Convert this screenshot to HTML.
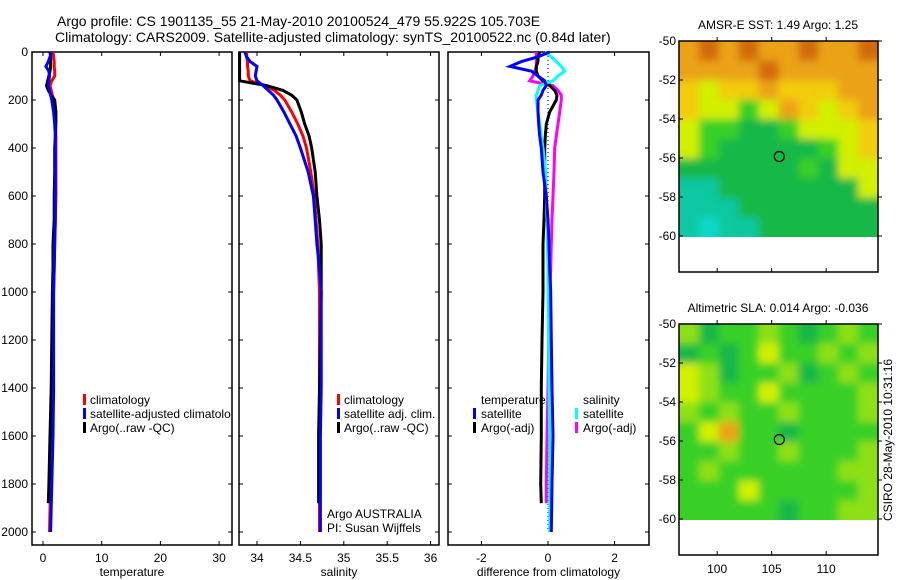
<!DOCTYPE html>
<html><head><meta charset="utf-8"><style>
body{margin:0;background:#fff;}
svg{display:block;font-family:"Liberation Sans",sans-serif;}
</style></head><body>
<svg id="c" width="900" height="580" xmlns="http://www.w3.org/2000/svg">
<defs>
<filter id="bl" filterUnits="userSpaceOnUse" x="600" y="0" width="300" height="580"><feGaussianBlur stdDeviation="4"/></filter>
<clipPath id="cm1"><rect x="679" y="41" width="199" height="196"/></clipPath>
<clipPath id="cm2"><rect x="679" y="324" width="199" height="196"/></clipPath>
</defs>
<text x="57" y="26" font-size="14">Argo profile: CS 1901135_55 21-May-2010 20100524_479 55.922S 105.703E</text>
<text x="55" y="42" font-size="14">Climatology: CARS2009. Satellite-adjusted climatology: synTS_20100522.nc (0.84d later)</text>
<g id="g"></g>
</svg>
<script>
const depths = [0,20,40,60,80,100,120,140,160,180,200,250,300,350,400,500,600,700,800,900,1000,1200,1400,1600,1800,2000];
const argoDepths = [0,20,40,60,80,100,120,140,160,180,200,250,300,350,400,500,600,700,800,900,1000,1200,1400,1600,1800,1880];
const tempClim = [1.7,1.8,1.9,1.9,2.0,2.0,1.5,1.2,1.4,1.6,1.8,2.0,2.1,2.2,2.2,2.2,2.2,2.1,2.0,1.9,1.8,1.7,1.6,1.5,1.3,1.1];
const tempSat = [1.5,1.2,0.9,0.5,1.0,1.1,1.0,0.9,1.1,1.3,1.5,1.8,2.0,2.1,2.1,2.1,2.1,2.1,2.0,1.9,1.8,1.8,1.8,1.7,1.5,1.3];
const tempArgo = [1.2,1.3,1.3,1.3,1.2,1.0,0.8,0.6,0.9,1.4,2.0,2.2,2.2,2.1,2.0,2.0,1.9,1.9,1.7,1.7,1.6,1.5,1.4,1.2,1.0,0.9];
const salClim = [33.88,33.88,33.89,33.89,33.9,33.9,33.92,34.1,34.2,34.27,34.32,34.4,34.47,34.53,34.57,34.62,34.66,34.68,34.70,34.71,34.72,34.72,34.72,34.72,34.72,34.72];
const salSat = [33.86,33.88,33.92,34.0,33.99,33.98,34.0,34.07,34.13,34.19,34.23,34.31,34.38,34.45,34.5,34.59,34.65,34.67,34.69,34.72,34.74,34.74,34.74,34.73,34.73,34.73];
const salArgo = [33.8,33.8,33.8,33.8,33.8,33.8,33.8,34.11,34.3,34.4,34.46,34.51,34.55,34.6,34.63,34.67,34.69,34.72,34.74,34.74,34.74,34.73,34.72,34.71,34.71,34.71];
const dTempSat = [0.05,-0.3,-0.8,-1.14,-0.5,-0.3,-0.1,-0.05,-0.15,-0.2,-0.3,-0.3,-0.28,-0.25,-0.2,-0.15,-0.05,0,0.03,0.05,0.08,0.1,0.12,0.15,0.12,0.1];
const dTempArgo = [-0.25,-0.3,-0.3,-0.35,-0.35,-0.3,-0.15,0.05,0.2,0.27,0.25,0.05,-0.05,-0.08,-0.1,-0.1,-0.1,-0.12,-0.15,-0.15,-0.15,-0.18,-0.2,-0.2,-0.22,-0.2];
const dSalSat = [-0.1,0.1,0.25,0.4,0.5,0.3,0.15,-0.25,-0.3,-0.35,-0.35,-0.3,-0.25,-0.2,-0.15,-0.07,-0.05,-0.03,-0.02,0,0,0.02,0.03,0.05,0.05,0.05];
const dSalArgo = [-0.35,-0.35,-0.35,-0.35,-0.4,-0.45,-0.55,0.15,0.3,0.4,0.4,0.35,0.3,0.25,0.2,0.18,0.15,0.12,0.1,0.08,0.05,0.02,0,-0.03,-0.05,-0.05];
const depthTicks = [0,200,400,600,800,1000,1200,1400,1600,1800,2000];
const tempTicks = [0,10,20,30];
const salTicks = [34,34.5,35,35.5,36];
const diffTicks = [-2,0,2];
const latTicks = [-50,-52,-54,-56,-58,-60];
const lonTicks = [100,105,110];
const sstGrid = ["OROROOROOR","OOOOROOOOO","YyYYOYYYOO","YyyGyOYyYO","yGGggGyyyY","yGgggggGyY","ggggggGgyy","TTgggggggy","TTTggggggg","TCTTgggggg"];
const slaGrid = ["lgGGlGgGlG","gGgGyGGlGl","ylgGGlgGlG","ylGGyGGGGl","lGlGGlGGGl","GyOGGgGGGG","GGlGGlGGGl","GlGGGGGGll","GGGyGGGGGl","GGGGGgGGll"];
const argoLon = 105.703, argoLat = -55.922;

const NS="http://www.w3.org/2000/svg";
const G=document.getElementById('g');
function el(t,a,p){const e=document.createElementNS(NS,t);for(const k in a)e.setAttribute(k,a[k]);(p||G).appendChild(e);return e;}
const Y=d=>52+d*0.24;
const TOP=52,BOT=545;
function panel(name,x0,x1,sx,xt,label){
  const g=el('g',{});
  
  
  const r=el('rect',{x:x0,y:TOP,width:x1-x0,height:BOT-TOP,fill:'none',stroke:'#000','stroke-width':1.5},g);
  
  
  depthTicks.forEach(d=>{el('line',{x1:x0,x2:x0+4,y1:Y(d),y2:Y(d),stroke:'#000'},g);el('line',{x1:x1,x2:x1-4,y1:Y(d),y2:Y(d),stroke:'#000'},g);});
  xt.forEach(v=>{const x=sx(v);el('line',{x1:x,x2:x,y1:TOP,y2:TOP+4,stroke:'#000'},g);el('line',{x1:x,x2:x,y1:BOT,y2:BOT-4,stroke:'#000'},g);
    const t=el('text',{x:x,y:BOT+17,'font-size':12,'text-anchor':'middle'},g);t.textContent=v;
    
    });
  const t=el('text',{x:(x0+x1)/2,y:BOT+31,'font-size':12,'text-anchor':'middle'},g);t.textContent=label;
  
  
  return g;
}
function line(g,name,sx,vals,ds,col){
  let pts=[];vals.forEach((v,i)=>{pts.push(sx(v).toFixed(1)+','+Y(ds[i]).toFixed(1));});
  const p=el('polyline',{points:pts.join(' '),fill:'none',stroke:col,'stroke-width':3,'stroke-linejoin':'miter'},g);
  
  
}
function txt(g,name,x,y,s,extra){const t=el('text',Object.assign({x:x,y:y,'font-size':12},extra||{}),g);t.textContent=s;
  
  return t;}
function mark(g,name,x,y,col){const r=el('rect',{x:x,y:y-10,width:3,height:11,fill:col},g);
  
  }

depthTicks.forEach(d=>{txt(G,'depth-tick-label',28,Y(d)+4,d,{'text-anchor':'end'});});

const sxT=v=>43+v*5.87;
const g1=panel('temperature',32,232,sxT,tempTicks,'temperature');
line(g1,'temp-climatology-line',sxT,tempClim,depths,'#f00');
line(g1,'temp-argo-line',sxT,tempArgo,argoDepths,'#000');
line(g1,'temp-satellite-line',sxT,tempSat,depths,'#00f');
mark(g1,'legend-climatology-marker',83,404,'#f00');txt(g1,'legend-climatology',90,404,'climatology');
mark(g1,'legend-satellite-marker',83,418,'#00f');txt(g1,'legend-satellite-adjusted',90,418,'satellite-adjusted climatolo');
mark(g1,'legend-argo-marker',83,432,'#000');txt(g1,'legend-argo',90,432,'Argo(..raw -QC)');

const sxS=v=>257+(v-34)*86.8;
const g2=panel('salinity',239,439,sxS,salTicks,'salinity');
line(g2,'sal-climatology-line',sxS,salClim,depths,'#f00');
line(g2,'sal-argo-line',sxS,salArgo,argoDepths,'#000');
line(g2,'sal-satellite-line',sxS,salSat,depths,'#00f');
mark(g2,'legend-climatology-marker',337,404,'#f00');txt(g2,'legend-climatology',344,404,'climatology');
mark(g2,'legend-satellite-marker',337,418,'#00f');txt(g2,'legend-satellite',344,418,'satellite adj. clim.');
mark(g2,'legend-argo-marker',337,432,'#000');txt(g2,'legend-argo',344,432,'Argo(..raw -QC)');
txt(g2,'argo-australia-label',327,518,'Argo AUSTRALIA');
txt(g2,'pi-label',327,532,'PI: Susan Wijffels');

const sxD=v=>548+v*33.3;
const g3=panel('difference',448,649,sxD,diffTicks,'difference from climatology');
el('line',{x1:sxD(0),x2:sxD(0),y1:TOP,y2:Y(2000),stroke:'#000','stroke-dasharray':'1,3'},g3);
line(g3,'diff-sal-argo-line',sxD,dSalArgo,argoDepths,'#f0f');
line(g3,'diff-temp-argo-line',sxD,dTempArgo,argoDepths,'#000');
line(g3,'diff-sal-satellite-line',sxD,dSalSat,depths,'#0ff');
line(g3,'diff-temp-satellite-line',sxD,dTempSat,depths,'#00f');
txt(g3,'legend-temperature-header',481,404,'temperature');
mark(g3,'legend-temp-satellite-marker',473,418,'#00f');txt(g3,'legend-temp-satellite',481,418,'satellite');
mark(g3,'legend-temp-argo-marker',473,432,'#000');txt(g3,'legend-temp-argo',481,432,'Argo(-adj)');
txt(g3,'legend-salinity-header',583,404,'salinity');
mark(g3,'legend-sal-satellite-marker',575,418,'#0ff');txt(g3,'legend-sal-satellite',583,418,'satellite');
mark(g3,'legend-sal-argo-marker',575,432,'#f0f');txt(g3,'legend-sal-argo',583,432,'Argo(-adj)');

const COL={R:'#d26a10',O:'#eba214',Y:'#f2cc10',y:'#d2f000',l:'#8ee018',G:'#38d028',g:'#14b846',T:'#10c8a0',C:'#10d8c8'};
function map(name,top,grid,title,clip){
  const g=el('g',{});
  
  
  const lonX=v=>679+(v-96.5)*10.9, latY=v=>top+(-50-v)*19.5;
  const cg=el('g',{'clip-path':'url(#'+clip+')'},g);
  const ig=el('g',{filter:'url(#bl)'},cg);
  el('rect',{x:669,y:top-10,width:219,height:216,fill:COL.G},ig);
  grid.forEach((row,r)=>{for(let c=0;c<row.length;c++){
    const rr=r===0?-10:0, cc=c===0?-10:0;
    el('rect',{x:679+c*19.9+cc,y:top+r*19.6+rr,width:20-cc+(c===9?10:0),height:20-rr+(r===9?10:0),fill:COL[row[c]]},ig);
  }});
  latTicks.forEach(v=>{const y=latY(v);el('line',{x1:878,x2:882,y1:y,y2:y,stroke:'#000'},g);el('line',{x1:679,x2:683,y1:y,y2:y,stroke:'#000'},g);
    txt(g,name+'-lat-label',676,y+4,v,{'text-anchor':'end'});});
  lonTicks.forEach(v=>{const x=lonX(v);el('line',{x1:x,x2:x,y1:top,y2:top-4,stroke:'#000'},g);el('line',{x1:x,x2:x,y1:top+231,y2:top+227,stroke:'#000'},g);});
  el('rect',{x:679,y:top,width:199,height:231,fill:'none',stroke:'#000','stroke-width':1.5},g);
  const ci=el('circle',{cx:lonX(argoLon),cy:latY(argoLat),r:5,fill:'none',stroke:'#000','stroke-width':1.2},g);
  
  
  txt(g,name+'-title',778,top-12,title,{'text-anchor':'middle'});
  return {g,lonX};
}
map('sst-map',41,sstGrid,'AMSR-E SST: 1.49 Argo: 1.25','cm1');
const m2=map('sla-map',324,slaGrid,'Altimetric SLA: 0.014 Argo: -0.036','cm2');
lonTicks.forEach(v=>txt(m2.g,'lon-tick-label',m2.lonX(v),573,v,{'text-anchor':'middle'}));
txt(G,'csiro-timestamp',0,0,'CSIRO 28-May-2010 10:31:16',{'text-anchor':'middle',transform:'translate(892,440) rotate(-90)'});
</script>
</body></html>
